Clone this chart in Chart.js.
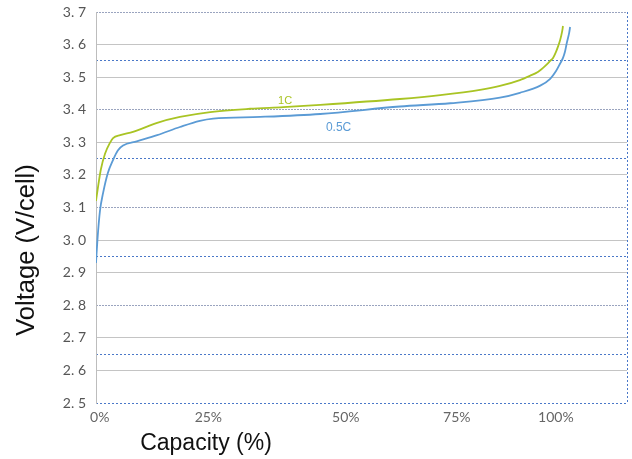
<!DOCTYPE html>
<html>
<head>
<meta charset="utf-8">
<script src="https://cdn.jsdelivr.net/npm/chart.js@4"></script>
<style>
html,body{margin:0;padding:0;background:#fff;}
#wrap{width:632px;height:459px;position:relative;}
</style>
</head>
<body>
<div id="wrap"><canvas id="c" width="632" height="459"></canvas></div>
<script>
// ---- data ----
const cap1C  = [0, 0.5, 1.0, 1.9, 3.0, 3.6, 5.1, 7.8, 12.9, 17.7, 24.1, 32.5, 39.5, 47.3, 64.1, 72.6, 81.0, 85.2, 89.4, 91.5, 93.2, 94.7, 95.8, 96.4, 97.0, 97.5, 97.9, 98.3, 98.5];
const volt1C = [3.12, 3.17, 3.215, 3.265, 3.30, 3.313, 3.322, 3.332, 3.36, 3.378, 3.393, 3.403, 3.408, 3.415, 3.433, 3.445, 3.461, 3.473, 3.491, 3.504, 3.516, 3.534, 3.550, 3.559, 3.577, 3.596, 3.614, 3.639, 3.657];
const cap05C  = [0, 0.3, 0.84, 1.5, 2.5, 3.6, 4.6, 5.7, 8.6, 12.9, 17.7, 21.9, 24.7, 34.6, 47.3, 64.1, 74.7, 85.2, 89.4, 93.7, 95.8, 97.0, 97.9, 98.5, 98.9, 99.3, 99.8, 100];
const volt05C = [2.93, 3.0, 3.09, 3.145, 3.206, 3.246, 3.275, 3.29, 3.303, 3.322, 3.347, 3.366, 3.373, 3.378, 3.387, 3.41, 3.42, 3.437, 3.452, 3.474, 3.495, 3.518, 3.542, 3.559, 3.577, 3.605, 3.636, 3.654];
const seriesNames = ['1C', '0.5C'];
const xTickLabels = ['0%', '25%', '50%', '75%', '100%', ''];
const xTickValues = [0.8, 23.7, 52.7, 76.1, 97.0, 112];
const yTickValues = [2.5, 2.6, 2.7, 2.8, 2.9, 3.0, 3.1, 3.2, 3.3, 3.4, 3.5, 3.6, 3.7];
const yGreyDotted = [2.8, 3.1, 3.4, 3.7];
const yBlueDotted = [2.5, 2.65, 2.95, 3.25, 3.55];
const seriesLabelPos = [[38.4, 3.428], [48.5, 3.345]];

const GREEN = '#a9c424';
const BLUE = '#5b9bd5';

const pairs = (xs, ys) => xs.map((x, i) => ({x: x, y: ys[i]}));

const labelPlugin = {
  id: 'labels',
  afterDraw(chart) {
    const ctx = chart.ctx;
    const xs = chart.scales.x, ys = chart.scales.y;
    ctx.save();
    ctx.textAlign = 'left';
    ctx.textBaseline = 'middle';
    ctx.font = '300 11px "Liberation Sans Narrow", "Liberation Sans", sans-serif';
    ctx.fillStyle = GREEN;
    ctx.fillText(seriesNames[0], xs.getPixelForValue(seriesLabelPos[0][0]), ys.getPixelForValue(seriesLabelPos[0][1]));
    ctx.font = '300 12px "Liberation Sans Narrow", "Liberation Sans", sans-serif';
    ctx.fillStyle = BLUE;
    ctx.fillText(seriesNames[1], xs.getPixelForValue(seriesLabelPos[1][0]), ys.getPixelForValue(seriesLabelPos[1][1]));
    ctx.fillStyle = '#111';
    ctx.textAlign = 'center';
    ctx.font = '23px "Liberation Sans", Arial, sans-serif';
    ctx.fillText('Capacity (%)', 206, 444);
    ctx.translate(27, 250);
    ctx.rotate(-Math.PI / 2);
    ctx.font = '25.5px "Liberation Sans", Arial, sans-serif';
    ctx.fillText('Voltage (V/cell)', 0, 0);
    ctx.restore();
  }
};

const noPad = s => { s.paddingTop = 0; s.paddingBottom = 0; };

new Chart(document.getElementById('c'), {
  type: 'line',
  data: {
    datasets: [
      {label: seriesNames[0], data: pairs(cap1C, volt1C), borderColor: GREEN, borderWidth: 1.8, pointRadius: 0, fill: false, cubicInterpolationMode: 'monotone'},
      {label: seriesNames[1], data: pairs(cap05C, volt05C), borderColor: BLUE, borderWidth: 1.8, pointRadius: 0, fill: false, cubicInterpolationMode: 'monotone'}
    ]
  },
  options: {
    responsive: false,
    animation: false,
    layout: {padding: {left: 0, right: 5, top: 12, bottom: 0}},
    plugins: {legend: {display: false}, tooltip: {enabled: false}, title: {display: false}},
    scales: {
      x: {
        type: 'linear', min: 0, max: 112,
        afterBuildTicks: s => { s.ticks = xTickValues.map(v => ({value: v})); },
        afterFit: s => { s.height = 56; s.paddingLeft = 0; s.paddingRight = 0; },
        ticks: {
          padding: 6, color: '#666', maxRotation: 0, autoSkip: false,
          font: {family: 'Lato, "Open Sans", sans-serif', size: 14},
          callback: (v, i) => xTickLabels[i]
        },
        grid: {
          drawTicks: false, lineWidth: 1,
          color: ctx => (ctx.tick && ctx.tick.value === 112) ? '#4a78c8' : 'rgba(0,0,0,0)'
        },
        border: {display: false, dash: [2, 2]}
      },
      y: {
        position: 'left', min: 2.5, max: 3.7,
        afterBuildTicks: s => { s.ticks = yTickValues.map(v => ({value: v})); },
        afterFit: s => { s.width = 96; noPad(s); },
        ticks: {
          padding: 10, color: '#555', autoSkip: false,
          font: {family: 'Lato, "Open Sans", sans-serif', size: 14},
          callback: v => v.toFixed(1).replace('.', '. ')
        },
        grid: {
          drawTicks: false, lineWidth: 1,
          color: ctx => {
            const v = ctx.tick ? Math.round(ctx.tick.value * 100) / 100 : 0;
            if (yGreyDotted.includes(v) || yBlueDotted.includes(v)) return 'rgba(0,0,0,0)';
            return '#c4c4c4';
          }
        },
        border: {display: true, color: '#bdbdbd', width: 1}
      },
      yGrey: {
        position: 'left', min: 2.5, max: 3.7,
        afterBuildTicks: s => { s.ticks = yGreyDotted.map(v => ({value: v})); },
        afterFit: s => { s.width = 0; noPad(s); },
        ticks: {display: false},
        grid: {drawTicks: false, color: '#9aa4bf', lineWidth: 1},
        border: {display: false, dash: [2, 1]}
      },
      yBlue: {
        position: 'left', min: 2.5, max: 3.7,
        afterBuildTicks: s => { s.ticks = yBlueDotted.map(v => ({value: v})); },
        afterFit: s => { s.width = 0; noPad(s); },
        ticks: {display: false},
        grid: {drawTicks: false, color: '#4a78c8', lineWidth: 1},
        border: {display: false, dash: [2, 2]}
      }
    }
  },
  plugins: [labelPlugin]
});
</script>
</body>
</html>
